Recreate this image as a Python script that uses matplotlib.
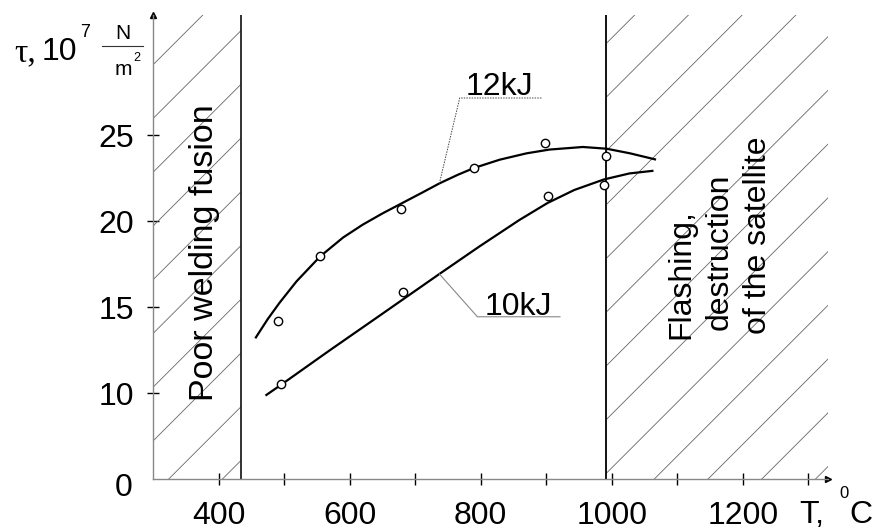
import matplotlib
matplotlib.use('Agg')
import matplotlib.pyplot as plt
import numpy as np
from matplotlib.patches import Rectangle

plt.rcParams['font.family'] = ['Liberation Sans', 'DejaVu Sans']

# measured points (open circles)
T_12 = [490, 555, 679, 790, 898, 991]
tau_12 = [14.2, 18.0, 20.7, 23.1, 24.55, 23.8]
T_10 = [495, 682, 902, 988]
tau_10 = [10.5, 15.9, 21.45, 22.1]

# fitted curves as drawn in the figure
T_12_fit = [457, 475, 493, 519, 555, 590, 620, 650, 680, 710, 737, 765, 790,
            829, 870, 905, 956, 992, 1028, 1066]
tau_12_fit = [13.24, 14.3, 15.25, 16.5, 17.95, 19.05, 19.8, 20.45, 21.05, 21.65,
              22.2, 22.7, 23.1, 23.58, 23.95, 24.17, 24.32, 24.22, 23.95, 23.6]
T_10_fit = [473, 495, 569, 646, 737, 798, 859, 902, 943, 988, 1027, 1062]
tau_10_fit = [9.89, 10.47, 12.47, 14.51, 16.93, 18.53, 20.07, 21.06, 21.82,
              22.43, 22.78, 22.93]

xticks = [400, 500, 600, 700, 800, 900, 1000, 1100, 1200, 1300]
xlabels = ['400', '', '600', '', '800', '', '1000', '', '1200', '']
yticks = [10, 15, 20, 25]

t_low = 435     # poor fusion limit
t_high = 991    # flashing limit
xmin, xmax = 300, 1330
ymin, ymax = 5, 32

W, H = 874, 531
fig = plt.figure(figsize=(W / 100, H / 100), dpi=100)
ax = fig.add_axes([153 / W, 52 / H, 675 / W, 464 / H])
ax.set_xlim(xmin, xmax)
ax.set_ylim(ymin, ymax)

def px(x, y):
    return x / W, 1 - y / H

# hatched zones
ax_w = 675 / (xmax - xmin)
ax_h = 464 / (ymax - ymin)
slope = ax_w / ax_h          # 45 degree lines in pixel space
step = 82
for x0, x1, c0 in [(xmin, t_low, 324), (t_high, xmax, 1065)]:
    rect = Rectangle((x0, ymin), x1 - x0, ymax - ymin, transform=ax.transData,
                     fill=False, lw=0)
    ax.add_patch(rect)
    span = (ymax - ymin) / slope
    c = c0 - step * int((span + (c0 - x0)) / step + 1)
    while c < x1:
        tt = np.array([c, c + span])
        ln, = ax.plot(tt, ymin + (tt - c) * slope, color='#666666', lw=0.6)
        ln.set_clip_path(rect)
        c += step

ax.axvline(t_low, color='#222222', lw=1.3)
ax.axvline(t_high, color='#111111', lw=1.4)

ax.plot(T_12_fit, tau_12_fit, color='black', lw=1.6)
ax.plot(T_10_fit, tau_10_fit, color='black', lw=1.6)
ax.plot(T_12, tau_12, 'o', mfc='white', mec='black', ms=6, mew=1.0)
ax.plot(T_10, tau_10, 'o', mfc='white', mec='black', ms=6, mew=1.0)

# leaders and labels
ax.plot([737, 768, 893], [22.2, 27.17, 27.17], color='#444444', lw=0.7, ls=(0, (1.5, 1.2)))
ax.text(777, 27.35, '12kJ', fontsize=23, ha='left', va='baseline')
ax.plot([737, 795, 921], [16.93, 14.44, 14.44], color='#888888', lw=0.8)
ax.text(806, 14.55, '10kJ', fontsize=23, ha='left', va='baseline')

# axes styling
for s in ['top', 'right']:
    ax.spines[s].set_visible(False)
for s in ['left', 'bottom']:
    ax.spines[s].set_color('#888888')
    ax.spines[s].set_linewidth(1.0)
ax.set_xticks(xticks)
ax.set_xticklabels(xlabels)
ax.set_yticks(yticks)
ax.tick_params(axis='x', direction='inout', length=9, width=1.0, colors='black',
               labelsize=23, pad=11)
ax.tick_params(axis='y', direction='inout', length=9, width=1.0, colors='black',
               labelsize=23, pad=9)
ax.plot([xmin], [ymax], marker='^', color='black', ms=4, clip_on=False)
ax.plot([xmax], [ymin], marker='>', color='black', ms=4, clip_on=False)
fig.text(*px(133, 488), '0', fontsize=23, ha='right', va='center')

# axis captions
fig.text(*px(14, 61), 'τ,', fontsize=24, family=['Liberation Serif', 'DejaVu Serif'],
         ha='left', va='baseline')
fig.text(*px(42, 60), '10', fontsize=23, ha='left', va='baseline')
fig.text(*px(80, 37), '7', fontsize=13, ha='left', va='baseline')
fig.text(*px(123, 39), 'N', fontsize=15, ha='center', va='baseline')
fig.add_artist(plt.Line2D([102 / W, 143 / W], [1 - 45.7 / H] * 2, color='#333333', lw=0.8))
fig.text(*px(123, 75), 'm', fontsize=15, ha='center', va='baseline')
fig.text(*px(133, 61), '2', fontsize=9, ha='left', va='baseline')

fig.text(*px(799, 523), 'T,', fontsize=23, ha='left', va='baseline')
fig.text(*px(839, 498), '0', fontsize=12, ha='left', va='baseline')
fig.text(*px(849, 523), 'C', fontsize=23, ha='left', va='baseline')

# zone captions
fig.text(*px(213, 401), 'Poor welding fusion', fontsize=24.5, rotation=90,
         rotation_mode='anchor', ha='left', va='baseline')
fig.text(*px(689, 339), 'Flashing,', fontsize=23, rotation=90,
         rotation_mode='anchor', ha='left', va='baseline')
fig.text(*px(728, 330), 'destruction', fontsize=23, rotation=90,
         rotation_mode='anchor', ha='left', va='baseline')
fig.text(*px(766, 334), 'of the satellite', fontsize=23, rotation=90,
         rotation_mode='anchor', ha='left', va='baseline')

fig.savefig('out.png', dpi=100)
